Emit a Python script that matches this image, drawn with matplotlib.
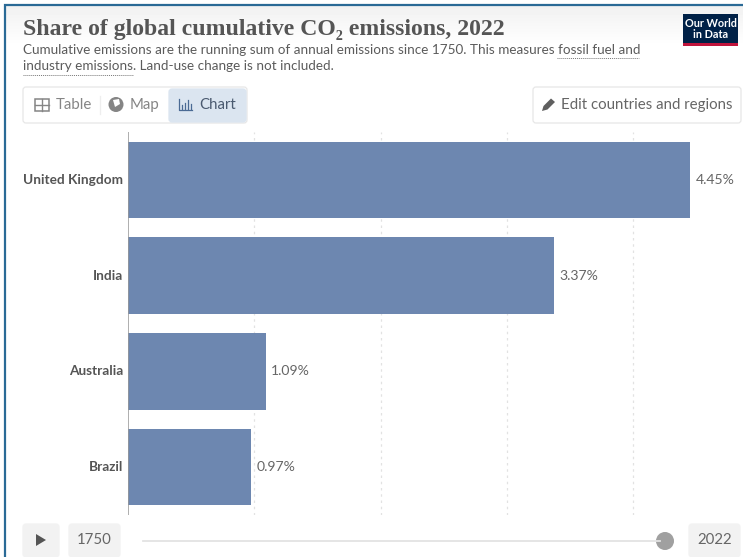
import numpy as np
from matplotlib import pyplot as plt
from matplotlib.patches import FancyBboxPatch, Rectangle, Circle, Polygon

countries = ['United Kingdom', 'India', 'Australia', 'Brazil']
shares = [4.45, 3.37, 1.09, 0.97]
value_labels = ['4.45%', '3.37%', '1.09%', '0.97%']
grid_values = [1, 2, 3, 4]
start_year = '1750'
end_year = '2022'

W, H = 743, 557
TEXT = '#5b5b5b'
plt.rcParams['font.family'] = ['Lato', 'DejaVu Sans']

fig = plt.figure(figsize=(W / 100, H / 100), dpi=100, facecolor='white')


def px_axes(left, top, right, bottom, **kw):
    return fig.add_axes([left / W, 1 - bottom / H, (right - left) / W, (bottom - top) / H], **kw)


def button(ax, x0, y0, x1, y1, fc='white', ec='#e7e7e7'):
    ax.add_patch(FancyBboxPatch((x0 + 3, y0 + 3), x1 - x0 - 6, y1 - y0 - 6,
                                boxstyle='round,pad=3', fc=fc, ec=ec, lw=0.9))


# page layer, in pixels
bg = px_axes(0, 0, W, H)
bg.set_xlim(0, W)
bg.set_ylim(H, 0)
bg.axis('off')

# grey fade behind the header
fade = np.linspace(0.945, 1, 40).reshape(-1, 1)
bg.imshow(fade, extent=(6, W, 46, 6), cmap='gray', vmin=0, vmax=1, aspect='auto', zorder=0)
bg.set_xlim(0, W)
bg.set_ylim(H, 0)
bg.plot([5, 5, W], [H, 5, 5], color='#2a6a96', lw=1.6, zorder=1, solid_joinstyle='miter')

# header
bg.text(23, 30, 'Share of global cumulative CO\u2082 emissions, 2022',
        family=['Liberation Serif', 'DejaVu Serif'],
        fontsize=17.1, fontweight='bold', color='#555555', va='center')
bg.text(23, 49.5, 'Cumulative emissions are the running sum of annual emissions since 1750. '
        'This measures fossil fuel and', fontsize=9.7, color=TEXT, va='center')
bg.text(23, 66.5, 'industry emissions. Land-use change is not included.', fontsize=9.7,
        color=TEXT, va='center')
bg.plot([557, 639], [58, 58], color='#777777', lw=0.7, ls=(0, (1, 1)))
bg.plot([23, 133], [75, 75], color='#777777', lw=0.7, ls=(0, (1, 1)))

# logo
bg.add_patch(Rectangle((683, 14), 55, 32, fc='#002147', ec='none'))
bg.add_patch(Rectangle((683, 43), 55, 3, fc='#c0143c', ec='none'))
bg.text(710.5, 23.5, 'Our World', color='white', fontsize=7.8, fontweight='bold', ha='center', va='center')
bg.text(710.5, 35, 'in Data', color='white', fontsize=7.8, fontweight='bold', ha='center', va='center')

# tabs
button(bg, 23, 87, 247, 123)
button(bg, 169, 89, 246, 122, fc='#dbe5f0', ec='#dbe5f0')
bg.plot([100, 100], [96, 114], color='#eeeeee', lw=0.9)
bg.text(56, 105, 'Table', fontsize=10.8, color='#858585', va='center')
bg.text(130, 105, 'Map', fontsize=10.8, color='#858585', va='center')
bg.text(199, 105, 'Chart', fontsize=10.8, color='#4a5a70', va='center')
# table icon
bg.add_patch(Rectangle((35, 99), 14, 12, fc='none', ec='#858585', lw=1.1))
bg.plot([35, 49], [105, 105], color='#858585', lw=1)
bg.plot([42, 42], [99, 111], color='#858585', lw=1)
# globe icon
bg.add_patch(Circle((116, 104.5), 7.5, fc='#858585', ec='none'))
bg.add_patch(Polygon([[113, 100], [119, 99], [120, 104], [115, 107]], fc='white', ec='none'))
# chart icon
bg.plot([179, 179, 192], [99, 110, 110], color='#4a6a94', lw=0.9)
for xb, yb in zip([182, 185, 188, 190.5], [105, 103, 100, 104]):
    bg.plot([xb, xb], [108.5, yb], color='#4a6a94', lw=0.9)

# edit button
button(bg, 533, 87, 741, 123)
bg.add_patch(Polygon([[542, 111], [543.5, 106], [551, 98.5], [555, 102], [547.5, 109.5]],
                     fc='#5f5f5f', ec='none'))
bg.text(561, 105, 'Edit countries and regions', fontsize=10.8, color='#666666', va='center')

# chart itself
PX_PER_UNIT = 126.3
ax = px_axes(128, 132, W, 515)
ax.patch.set_alpha(0)
ax.set_xlim(0, (W - 128) / PX_PER_UNIT)
ax.set_ylim(len(countries) - 0.5, -0.5)
ypos = np.arange(len(countries))
ax.barh(ypos, shares, height=0.8, color='#6d87b0', zorder=2)
for v in grid_values:
    ax.axvline(v, color='#e2e2e2', lw=0.9, ls=(0, (2, 3)), zorder=1)
ax.axvline(0, color='#999999', lw=1.1, zorder=3)
for y, v, lab in zip(ypos, shares, value_labels):
    ax.text(v + 0.045, y, lab, fontsize=10.1, color='#666666', va='center')
ax.set_yticks(ypos, countries)
ax.tick_params(axis='y', length=0, pad=3.5, labelsize=9.8, labelcolor='#555555')
for lab in ax.get_yticklabels():
    lab.set_fontweight('bold')
    lab.set_verticalalignment('center')
ax.set_xticks([])
for s in ax.spines.values():
    s.set_visible(False)

# timeline
button(bg, 23, 524, 59, 557, fc='#f2f2f2', ec='#f2f2f2')
bg.add_patch(Polygon([[36, 534], [36, 546], [46, 540]], fc='#555555', ec='none'))
button(bg, 69, 524, 120, 557, fc='#f2f2f2', ec='#f2f2f2')
bg.text(94.5, 540, start_year, fontsize=10.8, color='#666666', ha='center', va='center')
bg.plot([143, 660], [541, 541], color='#e3e3e3', lw=1.3)
bg.add_patch(Circle((665, 541), 9, fc='#a0a0a0', ec='none'))
button(bg, 689, 524, 740, 557, fc='#f2f2f2', ec='#f2f2f2')
bg.text(714.5, 540, end_year, fontsize=10.8, color='#666666', ha='center', va='center')

plt.savefig('out.png', dpi=100)
plt.close()
